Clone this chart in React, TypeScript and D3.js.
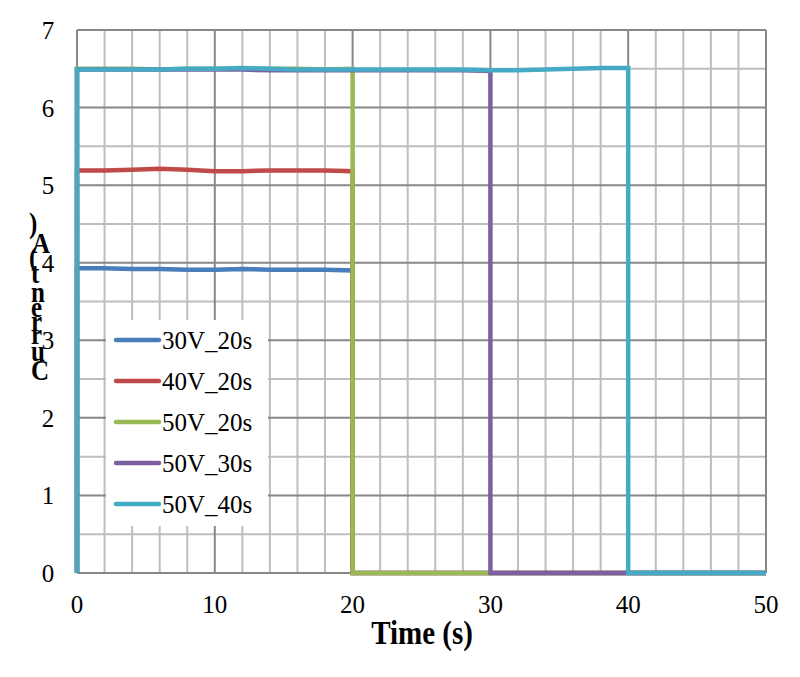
import React from "react";
import * as d3 from "d3";

const seriesNames = ["30V_20s", "40V_20s", "50V_20s", "50V_30s", "50V_40s"];
const seriesColors = ["#4a7ebb", "#be4b48", "#98b954", "#7d60a0", "#46aac5"];
const offTimes = [20, 20, 20, 30, 40];
const sampleTimes = [0, 2, 4, 6, 8, 10, 12, 14, 16, 18, 20, 22, 24, 26, 28, 30, 32, 34, 36, 38, 40];
const v30V20s = [3.93, 3.93, 3.92, 3.92, 3.91, 3.91, 3.92, 3.91, 3.91, 3.91, 3.9];
const v40V20s = [5.19, 5.19, 5.2, 5.21, 5.2, 5.18, 5.18, 5.19, 5.19, 5.19, 5.18];
const v50V20s = [6.5, 6.5, 6.5, 6.49, 6.5, 6.5, 6.5, 6.5, 6.5, 6.49, 6.5];
const v50V30s = [6.49, 6.49, 6.49, 6.49, 6.49, 6.49, 6.49, 6.48, 6.48, 6.48, 6.48, 6.48, 6.48, 6.48, 6.48, 6.47];
const v50V40s = [6.49, 6.49, 6.49, 6.49, 6.5, 6.5, 6.51, 6.5, 6.49, 6.49, 6.49, 6.49, 6.49, 6.49, 6.49, 6.48, 6.48, 6.49, 6.5, 6.51, 6.51];
const seriesValues = [v30V20s, v40V20s, v50V20s, v50V30s, v50V40s];
const xTicks = [0, 10, 20, 30, 40, 50];
const yTicks = [0, 1, 2, 3, 4, 5, 6, 7];
const xTitle = "Time (s)";
const yTitle = "Current (A)";

const FONT = "'Liberation Serif', 'DejaVu Serif', serif";

export default function App() {
  const W = 800, H = 677;
  const x = d3.scaleLinear().domain([0, 50]).range([77, 766]);
  const y = d3.scaleLinear().domain([0, 7]).range([573, 30]);

  const vGrid = d3.range(0, 51, 2);
  const hGrid = d3.range(0, 7.01, 0.5);

  const line = d3.line<[number, number]>().x(d => x(d[0])).y(d => y(d[1]));

  const paths = seriesValues.map((vals, i) => {
    const pts: [number, number][] = [[0, 0]];
    vals.forEach((v, j) => pts.push([sampleTimes[j], v]));
    pts.push([offTimes[i], vals[vals.length - 1]]);
    pts.push([offTimes[i], 0]);
    pts.push([50, 0]);
    return line(pts) as string;
  });

  const yChars = yTitle.split("").reverse().filter(c => c !== " ");
  const yCharBase = [233, 253, 267, 283, 302, 317, 331, 344, 361, 380];
  const yCharX = [29, 32, 29, 31, 31, 31, 31, 31, 31, 31];

  const legY = [340, 381, 422, 463, 504];

  return (
    <svg width={W} height={H} style={{ position: "absolute", left: 0, top: 0, background: "#fff", fontFamily: FONT }}>
      <rect x={0} y={0} width={W} height={H} fill="#fff" />
      {vGrid.filter(v => v % 10 !== 0).map(v => (
        <line key={"vx" + v} x1={x(v)} x2={x(v)} y1={y(0)} y2={y(7)} stroke="#bebebe" strokeWidth={2} />
      ))}
      {hGrid.filter(v => Math.abs(v - Math.round(v)) > 0.01).map(v => (
        <line key={"hy" + v} x1={x(0)} x2={x(50)} y1={y(v)} y2={y(v)} stroke="#bebebe" strokeWidth={2} />
      ))}
      {xTicks.map(v => (
        <line key={"Vx" + v} x1={x(v)} x2={x(v)} y1={y(0)} y2={y(7)} stroke="#878787" strokeWidth={2} />
      ))}
      {yTicks.map(v => (
        <line key={"Hy" + v} x1={x(0)} x2={x(50)} y1={y(v)} y2={y(v)} stroke="#878787" strokeWidth={2} />
      ))}
      <rect x={106} y={320} width={162} height={206} fill="#fff" />
      {paths.map((d, i) => (
        <path key={"p" + i} d={d} fill="none" stroke={seriesColors[i]} strokeWidth={4.5} strokeLinejoin="miter" />
      ))}
      {seriesNames.map((n, i) => (
        <g key={"l" + i}>
          <line x1={116} x2={159} y1={legY[i]} y2={legY[i]} stroke={seriesColors[i]} strokeWidth={4.5} strokeLinecap="round" />
          <text x={162} y={legY[i] + 8.5} fontSize={25} fill="#000" style={{ fontFamily: FONT }}>{n}</text>
        </g>
      ))}
      {xTicks.map(v => (
        <text key={"xt" + v} x={x(v)} y={613} fontSize={25} textAnchor="middle" fill="#000" style={{ fontFamily: FONT }}>{v}</text>
      ))}
      {yTicks.map(v => (
        <text key={"yt" + v} x={48} y={y(v) + 9} fontSize={25} textAnchor="middle" fill="#000" style={{ fontFamily: FONT }}>{v}</text>
      ))}
      <text transform="translate(422,643.5) scale(1,1.13)" fontSize={29} fontWeight="bold" textAnchor="middle" fill="#000" style={{ fontFamily: FONT }}>{xTitle}</text>
      {yChars.map((c, i) => (
        <text key={"yc" + i} transform={`translate(${yCharX[i]},${yCharBase[i]}) scale(1,1.22)`} fontSize={25} fontWeight="bold" fill="#000" style={{ fontFamily: FONT }}>{c}</text>
      ))}
    </svg>
  );
}
